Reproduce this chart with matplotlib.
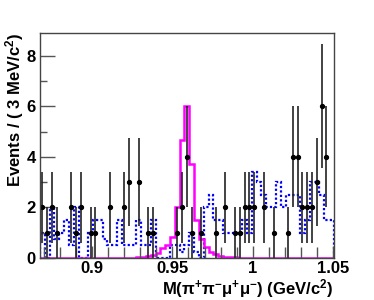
import matplotlib
matplotlib.use("Agg")
import matplotlib.pyplot as plt
import numpy as np
from matplotlib.ticker import MultipleLocator

plt.rcParams['font.family'] = ['Liberation Sans', 'DejaVu Sans']
plt.rcParams['mathtext.default'] = 'regular'

# 61 bins of 3 MeV
bin_lo = 0.8675
bin_w = 0.003

# data events per bin
data_counts = [2, 1, 2, 1, 0, 0, 2, 1, 2, 0,
               1, 1, 0, 0, 2, 0, 0, 2, 3, 0,
               3, 0, 1, 1, 0, 0, 0, 0, 1, 2,
               4, 1, 0, 1, 0, 0, 1, 0, 2, 0,
               1, 1, 2, 2, 2, 0, 2, 0, 1, 0,
               0, 1, 4, 4, 2, 2, 2, 3, 6, 4,
               0]

# signal MC (magenta)
signal = [0, 0, 0, 0, 0, 0, 0, 0, 0, 0,
          0, 0, 0, 0, 0, 0, 0, 0, 0, 0.01,
          0.02, 0.04, 0.06, 0.12, 0.2, 0.38, 0.5, 0.85, 2.0, 4.65,
          6.0, 3.7, 1.5, 0.75, 0.42, 0.25, 0.15, 0.09, 0.05, 0.03,
          0.02, 0.01, 0.01, 0, 0, 0, 0, 0, 0, 0,
          0, 0, 0, 0, 0, 0, 0, 0, 0, 0,
          0]

# background MC (blue dotted)
background = [1.0, 0.0, 2.0, 0.75, 1.0, 1.5, 0.5, 2.0, 0.0, 0.0,
              1.0, 1.5, 1.5, 0.75, 0.5, 0.5, 1.5, 0.5, 0.5, 0.5,
              1.5, 0.5, 0.5, 1.5, 0.0, 0.0, 0.0, 0.5, 0.5, 0.25,
              0.5, 1.0, 0.25, 0.0, 2.0, 2.5, 1.5, 1.5, 1.0, 1.0,
              1.0, 1.0, 1.5, 1.0, 3.4, 3.0, 2.5, 2.0, 2.0, 3.0,
              2.0, 2.5, 2.5, 2.5, 1.0, 1.5, 3.0, 3.0, 2.5, 1.5,
              1.5]

n_bins = len(data_counts)
edges = bin_lo + bin_w * np.arange(n_bins + 1)
centers = 0.5 * (edges[:-1] + edges[1:])

counts = np.array(data_counts, dtype=float)
has = counts > 0

fig = plt.figure(figsize=(3.74, 3.0), dpi=100)
ax = fig.add_axes([40 / 374, 42 / 300, 293.7 / 374, 225 / 300])

ax.stairs(background, edges, color='#0000ff', lw=1.6, linestyle=(0, (1, 1)))
ax.stairs(signal, edges, color='#ff00ff', lw=1.8, baseline=None)
ax.errorbar(centers[has], counts[has], yerr=np.sqrt(counts[has]),
            fmt='o', color='black', ecolor='#222222', ms=2.8,
            elinewidth=1.2, capsize=0)

ax.set_xlim(edges[0], edges[-1])
ax.set_ylim(0, 8.9)

ax.xaxis.set_minor_locator(MultipleLocator(0.01))
ax.yaxis.set_major_locator(MultipleLocator(2))
ax.yaxis.set_minor_locator(MultipleLocator(1))
ax.set_xticks([0.9, 0.95, 1.0, 1.05])
ax.set_xticklabels(['0.9', '0.95', '1', '1.05'])

ax.tick_params(axis='both', which='both', direction='in', color='#555555',
               labelsize=12, width=1)
ax.tick_params(axis='x', which='major', length=9, pad=2.5)
ax.tick_params(axis='x', which='minor', length=8)
ax.tick_params(axis='y', which='major', length=11, pad=3)
ax.tick_params(axis='y', which='minor', length=5)
for lab in ax.get_xticklabels() + ax.get_yticklabels():
    lab.set_fontweight('bold')

for s in ax.spines.values():
    s.set_color('#444444')
    s.set_linewidth(1.0)

ax.text(-0.088, 1.0, 'Events / ( 3 MeV/c$^{2}$)', rotation=90,
        ha='center', va='top', transform=ax.transAxes,
        fontsize=12, fontweight='bold')
ax.text(1.0, -0.163, r'M($\pi^{+}\pi^{-}\mu^{+}\mu^{-}$) (GeV/c$^{2}$)',
        ha='right', va='baseline', transform=ax.transAxes,
        fontsize=12, fontweight='bold')

fig.savefig('out.png', dpi=100)
